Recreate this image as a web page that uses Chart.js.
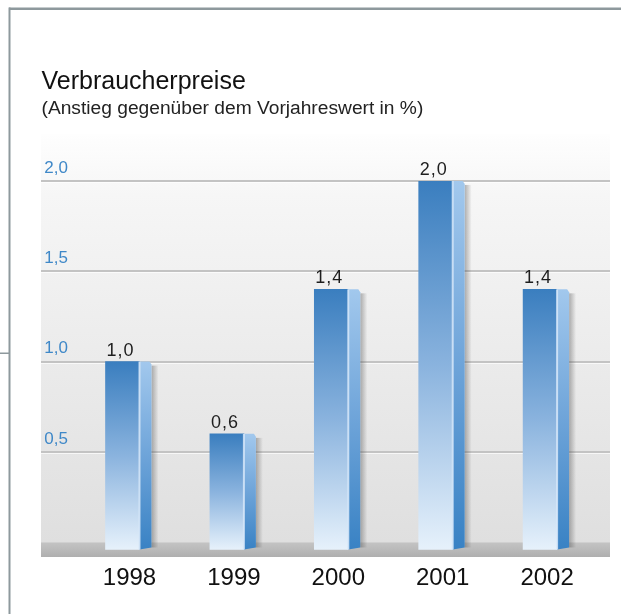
<!DOCTYPE html>
<html lang="de">
<head>
    <meta charset="UTF-8">
    <title>Verbraucherpreise</title>
    <style>
        body { margin: 0; background: #ffffff; }
        canvas { display: block; }
    </style>
</head>
<body>
    <canvas id="myChart" width="621" height="614"></canvas>

    <script src="https://cdn.jsdelivr.net/npm/chart.js"></script>
    <script>
        // chart data
        var years = ['1998', '1999', '2000', '2001', '2002'];
        var values = [1.0, 0.6, 1.4, 2.0, 1.4];
        var yTicks = [0.5, 1.0, 1.5, 2.0];

        function fmt(v) {
            return v.toFixed(1).replace('.', ',');
        }

        Chart.defaults.font.family = "'Liberation Sans', Arial, sans-serif";

        // frame, plot background, grid lines and floor band
        var backdrop = {
            id: 'backdrop',
            beforeDraw: function(chart) {
                var ctx = chart.ctx;
                var y = chart.scales.y;
                var zero = y.getPixelForValue(0);
                ctx.save();
                ctx.fillStyle = '#8e999d';
                ctx.fillRect(9, 7.5, 612, 2.5);
                ctx.fillRect(8.5, 7.5, 2, 607);
                ctx.fillRect(0, 352.5, 9, 1.5);

                var g = ctx.createLinearGradient(0, 134, 0, zero);
                g.addColorStop(0, '#fefefe');
                g.addColorStop(0.15, '#f6f6f6');
                g.addColorStop(1, '#dfdfdf');
                ctx.fillStyle = g;
                ctx.fillRect(41, 134, 569, zero - 134);

                var f = ctx.createLinearGradient(0, zero, 0, 557);
                f.addColorStop(0, '#c4c4c4');
                f.addColorStop(1, '#afafaf');
                ctx.fillStyle = f;
                ctx.fillRect(41, zero, 569, 557 - zero);

                yTicks.forEach(function(v) {
                    var py = Math.round(y.getPixelForValue(v));
                    ctx.fillStyle = '#c3c3c3';
                    ctx.fillRect(41, py - 1, 569, 2);
                    ctx.fillStyle = 'rgba(255,255,255,0.7)';
                    ctx.fillRect(41, py + 1, 569, 1);
                });
                ctx.restore();
            },
            afterDatasetsDraw: function(chart) {
                var ctx = chart.ctx;
                var meta = chart.getDatasetMeta(0);
                ctx.save();
                meta.data.forEach(function(bar, i) {
                    var x0 = bar.x + bar.width / 2;
                    var top = bar.y;
                    var bottom = bar.base;
                    var sideW = 12;

                    // drop shadow right of the side face
                    var sh = ctx.createLinearGradient(x0 + sideW, 0, x0 + sideW + 7, 0);
                    sh.addColorStop(0, 'rgba(70,70,70,0.4)');
                    sh.addColorStop(1, 'rgba(70,70,70,0)');
                    ctx.fillStyle = sh;
                    ctx.fillRect(x0 + sideW, top + 4, 7, bottom - top - 6);

                    // side face
                    var sg = ctx.createLinearGradient(0, top, 0, bottom);
                    sg.addColorStop(0, '#a2c8ed');
                    sg.addColorStop(0.5, '#6ea4d9');
                    sg.addColorStop(1, '#3982c4');
                    ctx.fillStyle = sg;
                    ctx.beginPath();
                    ctx.moveTo(x0, top);
                    ctx.lineTo(x0 + sideW - 2, top);
                    ctx.lineTo(x0 + sideW, top + 3);
                    ctx.lineTo(x0 + sideW, bottom - 2);
                    ctx.lineTo(x0, bottom);
                    ctx.closePath();
                    ctx.fill();

                    // highlight on the edge
                    ctx.fillStyle = 'rgba(215,232,249,0.85)';
                    ctx.fillRect(x0 - 1, top, 2, bottom - top);

                    // value label
                    ctx.fillStyle = '#1e1e1e';
                    ctx.font = "18px 'Liberation Sans', Arial, sans-serif";
                    ctx.letterSpacing = '1px';
                    ctx.textAlign = 'center';
                    ctx.textBaseline = 'alphabetic';
                    ctx.fillText(fmt(values[i]), bar.x - 2, top - 6);
                });
                ctx.restore();
            }
        };

        function frontGradient(context) {
            var chart = context.chart;
            if (!chart.chartArea) {
                return '#6a9fd4';
            }
            var y = chart.scales.y;
            var top = y.getPixelForValue(values[context.dataIndex]);
            var bottom = y.getPixelForValue(-0.04);
            var g = chart.ctx.createLinearGradient(0, top, 0, bottom);
            g.addColorStop(0, '#3a7ebf');
            g.addColorStop(0.5, '#8ab3de');
            g.addColorStop(1, '#e6f1fb');
            return g;
        }

        const ctx = document.getElementById('myChart');
        const myChart = new Chart(ctx, {
            type: 'bar',
            data: {
                labels: years,
                datasets: [{
                    data: values,
                    base: -0.04,
                    backgroundColor: frontGradient,
                    borderWidth: 0,
                    barThickness: 34
                }]
            },
            options: {
                responsive: false,
                animation: false,
                devicePixelRatio: 1,
                layout: {
                    padding: { top: 67, left: 41.5, right: 28.7, bottom: 21.4 }
                },
                plugins: {
                    legend: { display: false },
                    tooltip: { enabled: false },
                    title: {
                        display: true,
                        text: 'Verbraucherpreise',
                        align: 'start',
                        color: '#111111',
                        font: { size: 25, weight: 'normal' },
                        padding: { top: 0, bottom: 0 }
                    },
                    subtitle: {
                        display: true,
                        text: '(Anstieg gegenüber dem Vorjahreswert in %)',
                        align: 'start',
                        color: '#222222',
                        font: { size: 19.2 },
                        padding: { top: 0, bottom: 60.9 }
                    }
                },
                scales: {
                    x: {
                        grid: { display: false },
                        border: { display: false },
                        ticks: {
                            color: '#111111',
                            font: { size: 24 },
                            padding: 0,
                            labelOffset: 7
                        }
                    },
                    y: {
                        min: -0.075,
                        max: 2.0,
                        grid: { display: false },
                        border: { display: false },
                        afterBuildTicks: function(scale) {
                            scale.ticks = yTicks.map(function(v) { return { value: v }; });
                        },
                        afterFit: function(scale) {
                            scale.width = 28.8;
                        },
                        ticks: {
                            color: '#3f88c8',
                            font: { size: 17 },
                            mirror: true,
                            padding: -26,
                            labelOffset: -13,
                            callback: function(v) { return fmt(v); }
                        }
                    }
                }
            },
            plugins: [backdrop]
        });
    </script>
</body>
</html>
